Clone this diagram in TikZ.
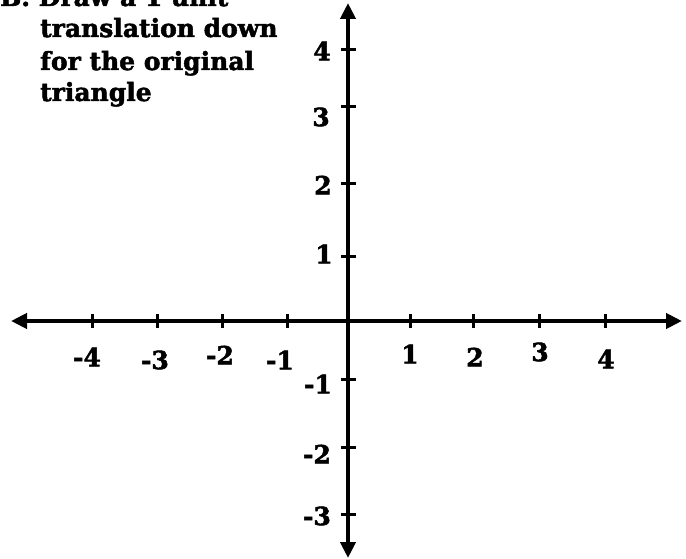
\documentclass[tikz,border=0pt]{standalone}
\usepackage{fontspec}
\setmainfont{DejaVu Serif}[BoldFeatures={FakeBold=2}]
\usetikzlibrary{arrows.meta}

\begin{document}
\begin{tikzpicture}[x=1pt, y=-1pt, >={Triangle[length=16pt, width=15pt]},
  lbl/.style={font=\fontsize{25}{29}\selectfont\bfseries, inner sep=0pt},
  ttl/.style={lbl, anchor=base west},
  tick/.style={line width=3pt}]
  \useasboundingbox (0,0) rectangle (686,559);
  \clip (0,0) rectangle (686,559);
  % instructions
  \node[ttl] (t1) at (0,6) {B. Draw a 1 unit};
  \node[ttl] (t2) at (40,37) {translation down};
  \node[ttl] (t3) at (40,70) {for the original};
  \node[ttl] (t4) at (40,101) {triangle};
  % axes
  \coordinate (xl) at (11,321);
  \coordinate (xr) at (682,321);
  \coordinate (yt) at (348,3);
  \coordinate (yb) at (348,558);
  \draw[line width=4pt, <->] (xl) -- (xr);
  \draw[line width=4pt, <->] (yb) -- (yt);
  % x ticks
  \foreach \x/\n/\t/\lx/\ly in {92/m4/-4/87/357, 157/m3/-3/155/360, 222/m2/-2/220/355,
      287/m1/-1/280/360, 410/p1/1/410/354, 473/p2/2/475/357, 539/p3/3/540/352, 605/p4/4/606/359} {
    \draw[tick] (\x,314) -- (\x,328);
    \node[lbl] (x\n) at (\lx,\ly) {\t};
  }
  % y ticks
  \foreach \y/\n/\t/\lx/\ly in {50/p4/4/322/51, 107/p3/3/321/117, 184/p2/2/323/185, 256/p1/1/324/254,
      379/m1/-1/318/384, 447/m2/-2/317/454, 514/m3/-3/317/516} {
    \draw[tick] (341,\y) -- (356,\y);
    \node[lbl] (y\n) at (\lx,\ly) {\t};
  }
\end{tikzpicture}
\end{document}
